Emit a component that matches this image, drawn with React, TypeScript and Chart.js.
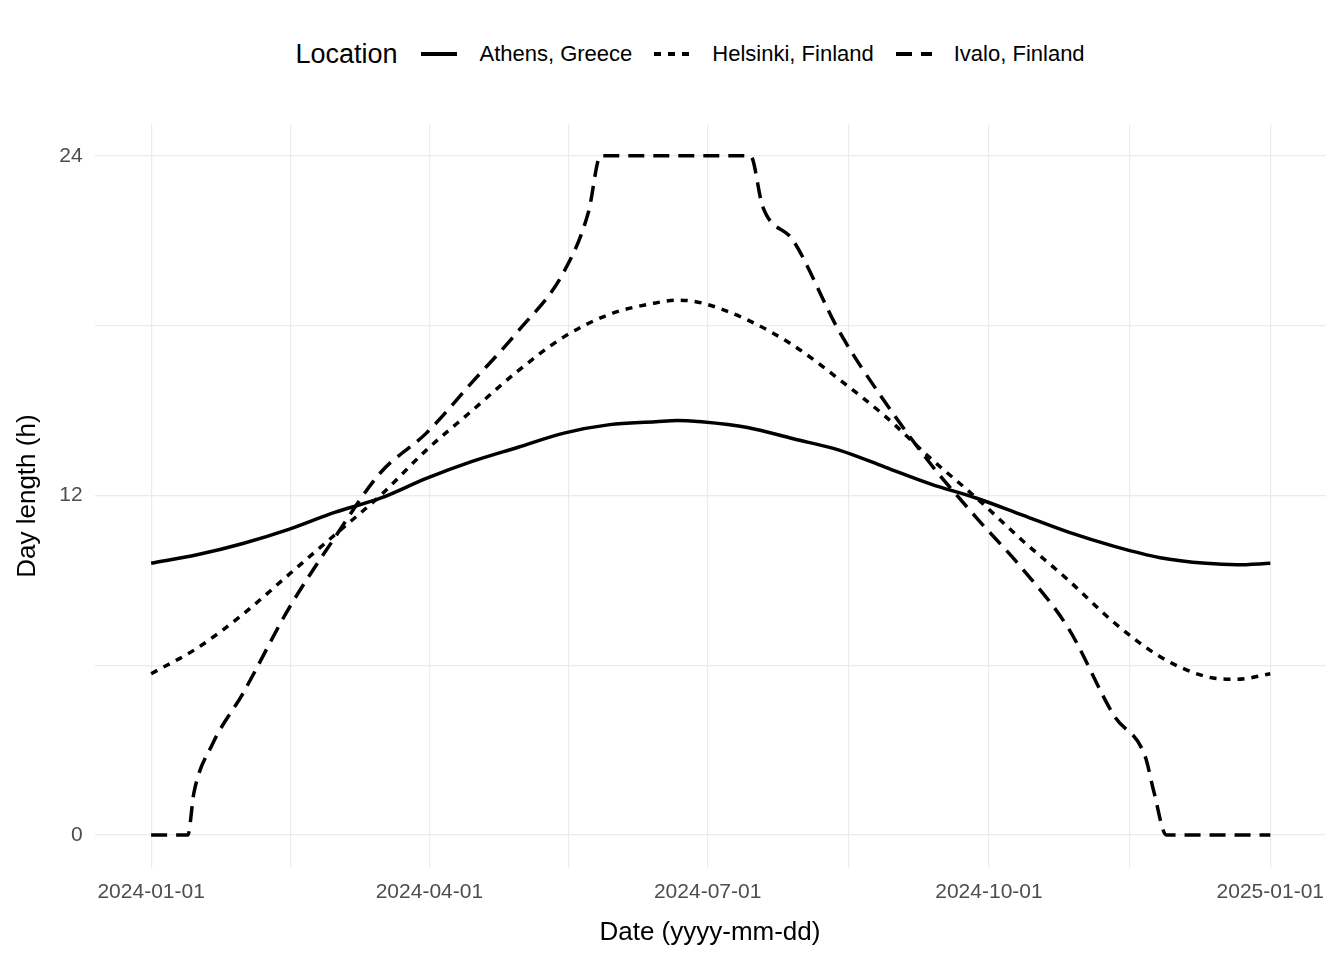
import { useRef, useEffect } from "react";
import { Chart, registerables, type ChartConfiguration } from "chart.js";

Chart.register(...registerables);

const dayTicks = [0, 91, 182, 274, 366];
const dayTickLabels = ["2024-01-01", "2024-04-01", "2024-07-01", "2024-10-01", "2025-01-01"];
const minorDayTicks = [45.5, 136.5, 228, 320];

const athensDays = [0, 15, 30, 45, 60, 75, 90, 105, 120, 135, 150, 165, 172, 180, 195, 210, 225, 240, 255, 270, 285, 300, 315, 330, 345, 355, 366];
const athensHours = [9.6, 9.9, 10.3, 10.8, 11.4, 11.9, 12.6, 13.2, 13.7, 14.2, 14.5, 14.6, 14.65, 14.6, 14.4, 14.0, 13.6, 13.0, 12.4, 11.9, 11.3, 10.7, 10.2, 9.8, 9.6, 9.55, 9.6];
const helsinkiHours = [5.7, 6.6, 7.8, 9.2, 10.6, 12.0, 13.6, 15.0, 16.4, 17.6, 18.4, 18.8, 18.9, 18.8, 18.2, 17.3, 16.1, 14.8, 13.3, 11.9, 10.4, 9.0, 7.5, 6.3, 5.6, 5.5, 5.7];
const ivaloDays = [0, 12, 14, 20, 30, 45, 60, 75, 90, 105, 120, 135, 143, 147, 196, 200, 210, 225, 240, 255, 270, 285, 300, 315, 325, 328, 332, 366];
const ivaloHours = [0, 0, 1.5, 3.2, 5.0, 8.0, 10.5, 12.8, 14.2, 16.0, 17.8, 19.9, 22, 24, 24, 22.2, 21, 17.8, 15.3, 13.1, 11.2, 9.4, 7.3, 4.2, 2.8, 1.5, 0, 0];

const locations = ["Athens, Greece", "Helsinki, Finland", "Ivalo, Finland"];
const dashes = [[], [7, 7], [16, 9]];

const FONT = "'Liberation Sans', Arial, sans-serif";

export default function App() {
  const canvasRef = useRef<HTMLCanvasElement>(null);

  useEffect(() => {
    const canvas = canvasRef.current;
    if (!canvas) return;
    const series = [
      athensDays.map((d, i) => ({ x: d, y: athensHours[i] })),
      athensDays.map((d, i) => ({ x: d, y: helsinkiHours[i] })),
      ivaloDays.map((d, i) => ({ x: d, y: ivaloHours[i] })),
    ];
    const config: ChartConfiguration = {
      type: "scatter",
      data: {
        datasets: series.map((data, i) => ({
          label: locations[i],
          data,
          showLine: true,
          borderColor: "#000",
          borderWidth: 3.5,
          borderDash: dashes[i],
          pointRadius: 0,
          cubicInterpolationMode: "monotone",
        })),
      },
      options: {
        responsive: true,
        maintainAspectRatio: false,
        animation: false,
        plugins: { legend: { display: false }, tooltip: { enabled: false } },
        scales: {
          x: {
            type: "linear",
            min: -18.5,
            max: 384,
            afterBuildTicks: (axis) => {
              axis.ticks = [...dayTicks, ...minorDayTicks].sort((a, b) => a - b).map((v) => ({ value: v }));
            },
            grid: { color: "#ebebeb", lineWidth: 1.2, drawTicks: false },
            border: { display: false },
            ticks: {
              autoSkip: false,
              maxRotation: 0,
              padding: 12,
              color: "#4d4d4d",
              font: { family: FONT, size: 21 },
              callback: (v) => {
                const i = dayTicks.indexOf(Number(v));
                return i >= 0 ? dayTickLabels[i] : "";
              },
            },
            title: { display: true, text: "Date (yyyy-mm-dd)", color: "#000", font: { family: FONT, size: 26 }, padding: { top: 0 } },
          },
          y: {
            min: -1.15,
            max: 25.1,
            afterBuildTicks: (axis) => {
              axis.ticks = [0, 6, 12, 18, 24].map((v) => ({ value: v }));
            },
            grid: { color: "#ebebeb", lineWidth: 1.2, drawTicks: false },
            border: { display: false },
            ticks: {
              padding: 12,
              color: "#4d4d4d",
              font: { family: FONT, size: 21 },
              callback: (v) => (Number(v) % 12 === 0 ? String(v) : ""),
            },
            title: { display: true, text: "Day length (h)", color: "#000", font: { family: FONT, size: 26 }, padding: { bottom: 4 } },
          },
        },
      },
    };
    Chart.getChart(canvas)?.destroy();
    const chart = new Chart(canvas, config);
    return () => chart.destroy();
  }, []);

  return (
    <div style={{ width: 1328, height: 944, position: "relative", fontFamily: FONT }}>
      <div style={{ position: "absolute", top: 28, left: 0, right: 0, display: "flex", justifyContent: "center", alignItems: "center", height: 36 }}>
        <span style={{ fontSize: 27, marginRight: 22, marginLeft: 36 }}>Location</span>
        {locations.map((l, i) => (
          <span key={l} style={{ display: "flex", alignItems: "center", marginRight: i < 2 ? 20 : 0 }}>
            <svg width="40" height="10" style={{ marginRight: 20 }}>
              <line x1="2" y1="5" x2="38" y2="5" stroke="#000" strokeWidth="4" strokeDasharray={dashes[i].join(",")} />
            </svg>
            <span style={{ fontSize: 22 }}>{l}</span>
          </span>
        ))}
      </div>
      <div style={{ position: "absolute", top: 92, left: 0, width: 1328, height: 852 }}>
        <canvas ref={canvasRef} />
      </div>
    </div>
  );
}
